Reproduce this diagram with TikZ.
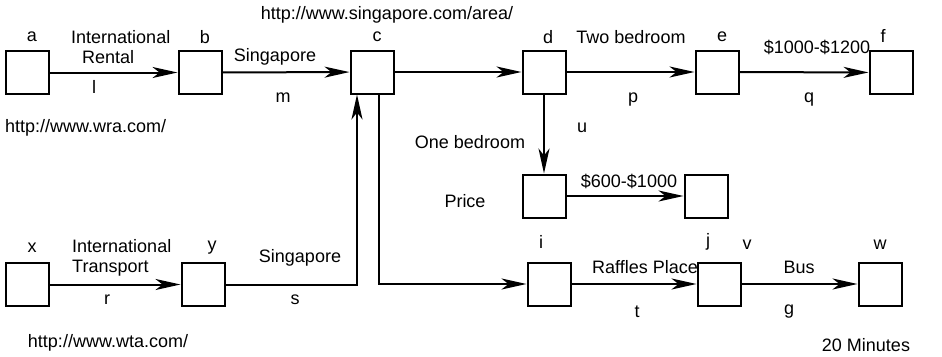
\documentclass[tikz,border=0pt]{standalone}
\usepackage{fontspec}
\setmainfont{Liberation Sans}
\usetikzlibrary{arrows.meta}
\tikzset{
  page/.style={draw, line width=2pt, minimum width=43pt, minimum height=43pt, inner sep=0pt},
  link/.style={line width=2pt, -{Stealth[length=25pt, width=11pt, inset=7pt]}},
  tag/.style={inner sep=0pt, font=\fontsize{18}{20}\selectfont},
}
\begin{document}
\begin{tikzpicture}[x=1pt, y=-1pt]
  \useasboundingbox (0,0) rectangle (942,356);
  % top row: rental site pages
  \node[page] (a) at (27,72.5) {};
  \node[page] (b) at (200,72.5) {};
  \node[page] (c) at (372,72) {};
  \node[page] (d) at (544,72) {};
  \node[page] (e) at (717,72) {};
  \node[page] (f) at (891,72.5) {};
  % price branch
  \node[page] (pr) at (544,196) {};
  \node[page] (prr) at (706,196) {};
  % bottom row: transport site pages
  \node[page] (x) at (27.5,284.5) {};
  \node[page] (y) at (203,284.5) {};
  \node[page] (i) at (549,284) {};
  \node[page] (j) at (719,284) {};
  \node[page] (w) at (880,284) {};
  % links
  \draw[link] (a) -- (b);
  \draw[link] (b) -- (c);
  \draw[link] (c) -- (d);
  \draw[link] (d) -- (e);
  \draw[link] (e) -- (f);
  \draw[link] (d) -- (pr);
  \draw[link] (pr) -- (prr);
  \draw[link] (x) -- (y);
  \draw[link] (y.east) -| ([xshift=-15pt]c.south);
  \draw[link] ([xshift=7pt]c.south) |- (i.west);
  \draw[link] (i) -- (j);
  \draw[link] (j) -- (w);
  % page names
  \node[tag] (na) at (32,37) {a};
  \node[tag] (nb) at (205,37) {b};
  \node[tag] (nc) at (377,37) {c};
  \node[tag] (nd) at (548,37) {d};
  \node[tag] (ne) at (722,37) {e};
  \node[tag] (nf) at (883,36) {f};
  \node[tag] (ni) at (541,242) {i};
  \node[tag] (nj) at (708,242) {j};
  \node[tag] (nv) at (747,245) {v};
  \node[tag] (nw) at (880,245) {w};
  \node[tag] (nx) at (32,248) {x};
  \node[tag] (ny) at (212,248) {y};
  % link names and anchors
  \node[tag, anchor=west, align=left] (trent) at (71,47) {International\\\hspace*{11pt}Rental};
  \node[tag] (tl) at (94,87) {l};
  \node[tag] (tsing) at (275,57) {Singapore};
  \node[tag] (tm) at (283,98) {m};
  \node[tag] (ttwo) at (631,37) {Two bedroom};
  \node[tag] (tp) at (633,100) {p};
  \node[tag] (thigh) at (817,47) {\$1000-\$1200};
  \node[tag] (tq) at (809,100) {q};
  \node[tag] (tu) at (582,128) {u};
  \node[tag] (tone) at (470,142) {One bedroom};
  \node[tag] (tprice) at (465,201) {Price};
  \node[tag] (tlow) at (629,181) {\$600-\$1000};
  \node[tag] (traf) at (645,267) {Raffles Place};
  \node[tag] (tt) at (637,312) {t};
  \node[tag] (tbus) at (799,267) {Bus};
  \node[tag] (tg) at (789,312) {g};
  \node[tag, anchor=west, align=left] (ttrans) at (72,258) {International\\Transport};
  \node[tag] (tr) at (107,300) {r};
  \node[tag] (tsing2) at (300,258) {Singapore};
  \node[tag] (ts) at (295,300) {s};
  % site addresses
  \node[tag] (urlsg) at (387,15) {http://www.singapore.com/area/};
  \node[tag, anchor=west] (urlwra) at (5,128) {http://www.wra.com/};
  \node[tag] (urlwta) at (108,343) {http://www.wta.com/};
  \node[tag] (tmin) at (866,345) {20 Minutes};
\end{tikzpicture}
\end{document}
